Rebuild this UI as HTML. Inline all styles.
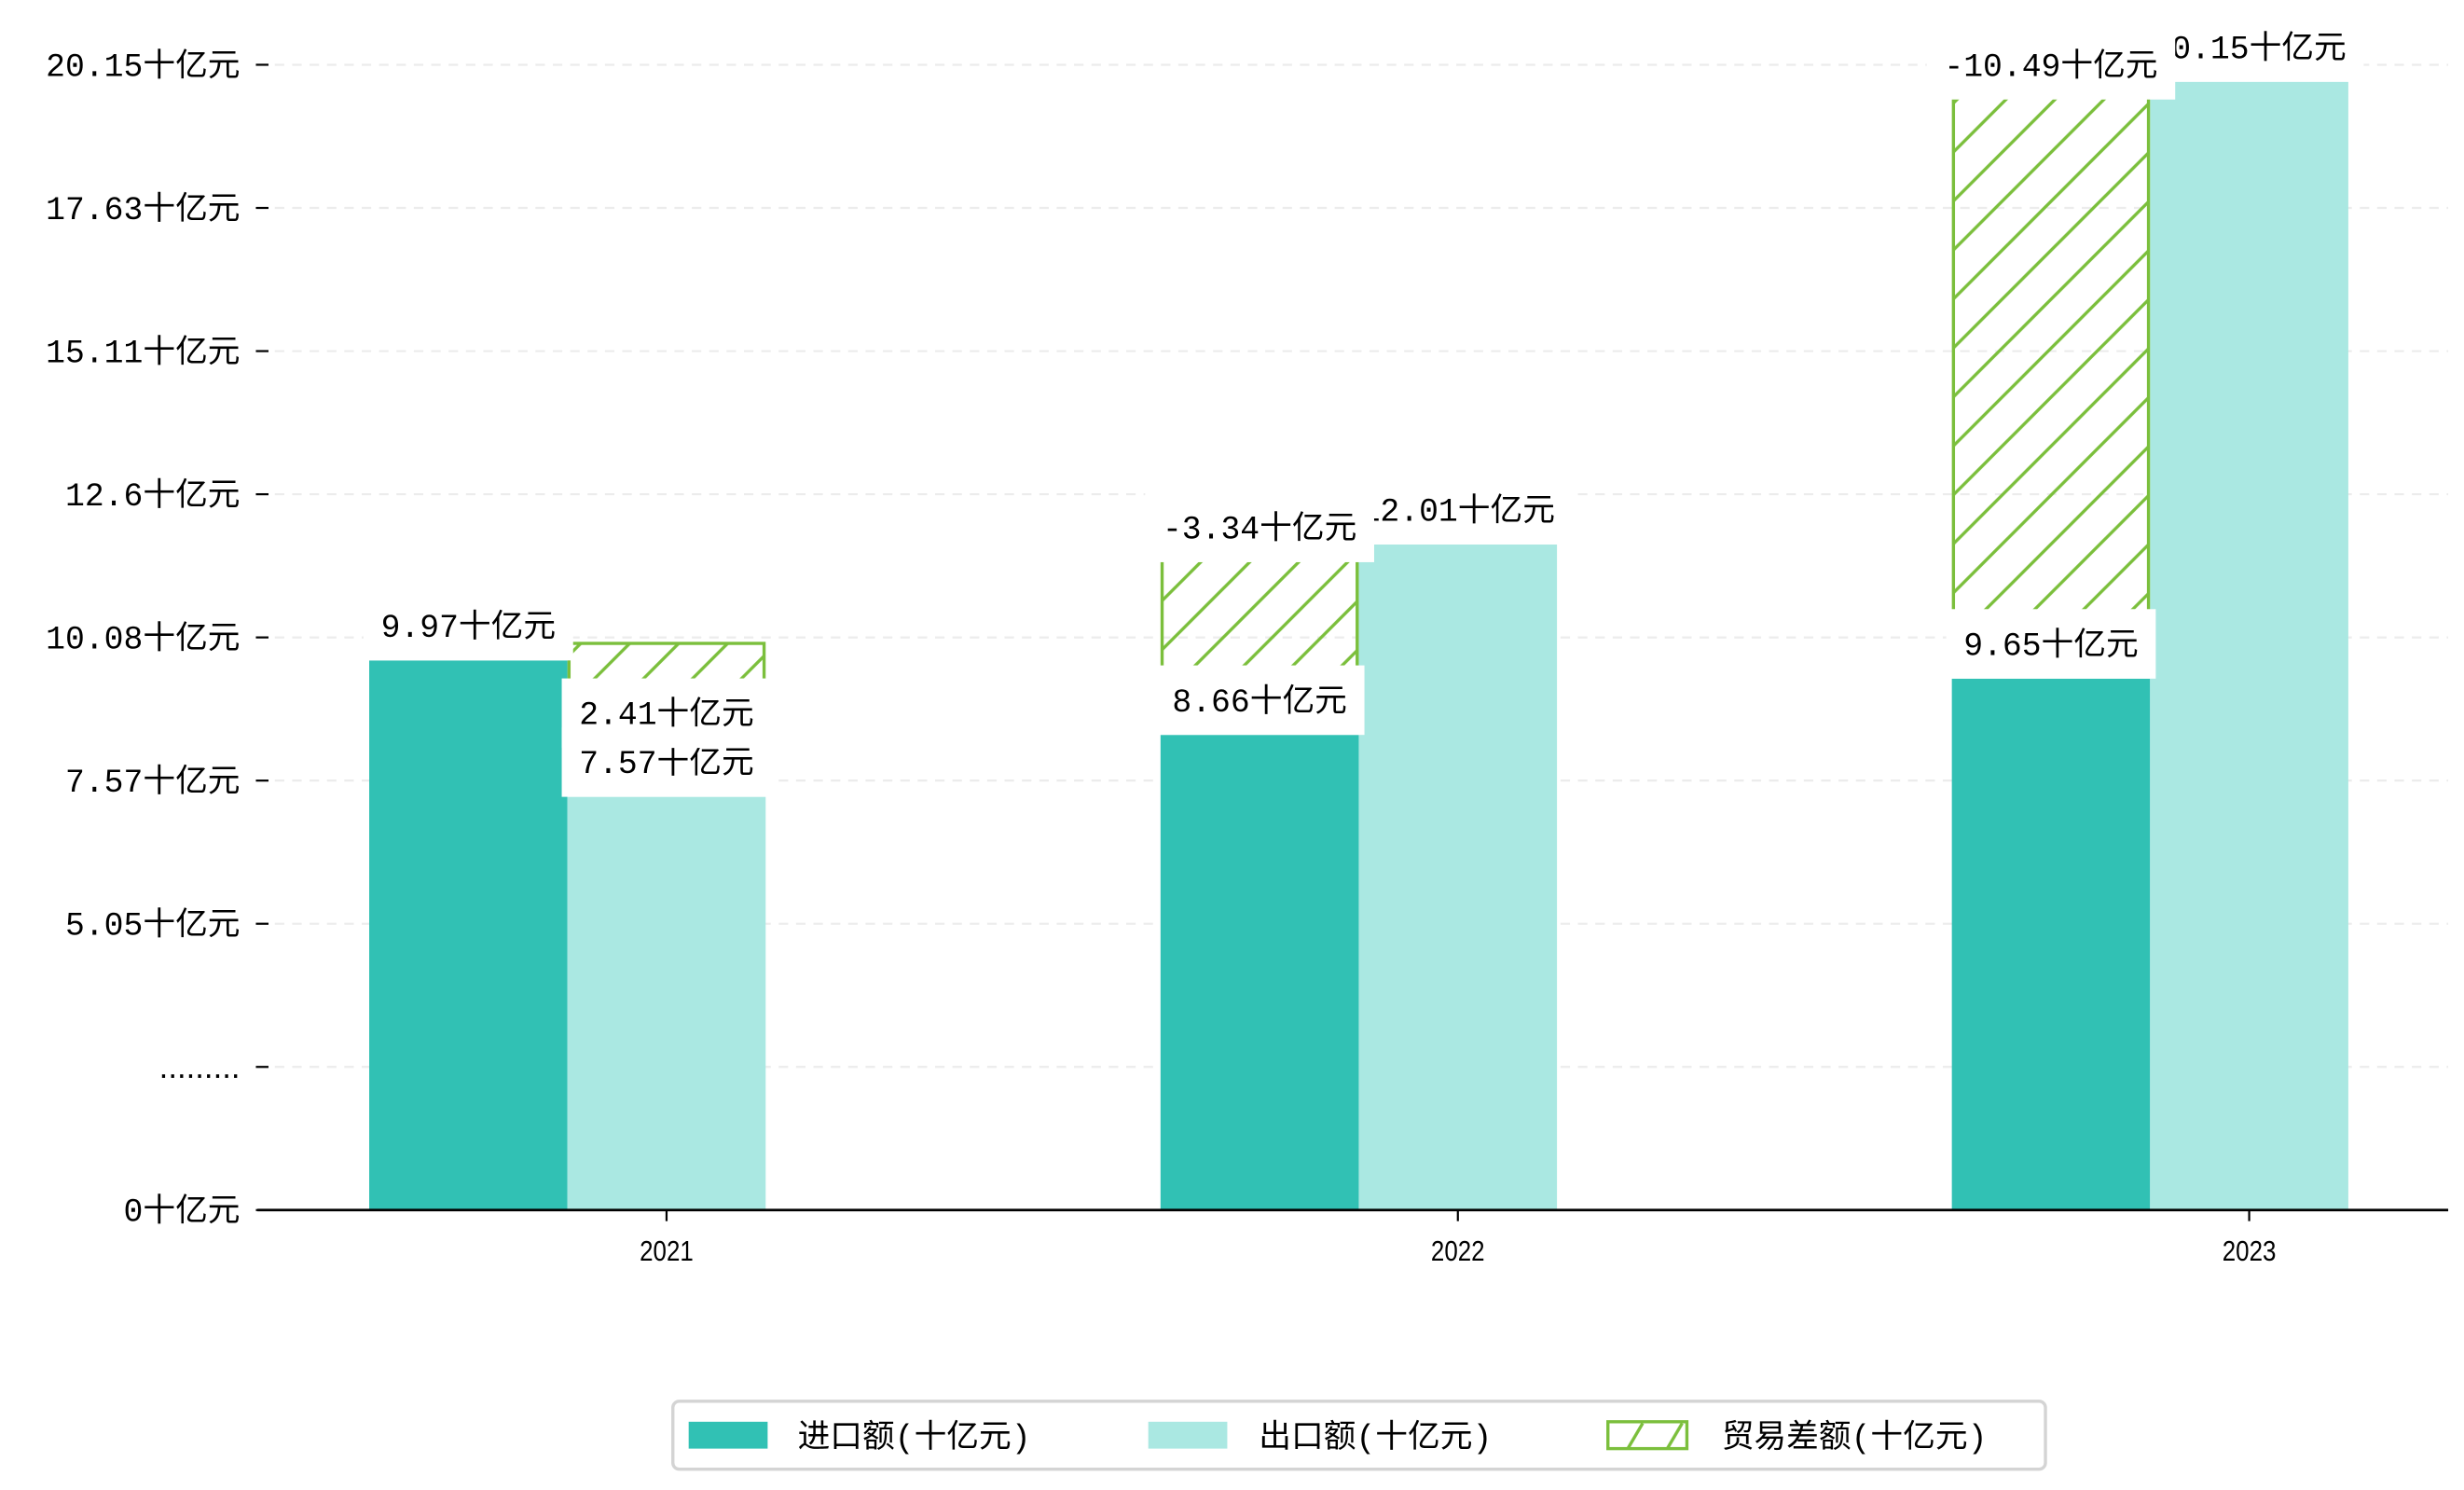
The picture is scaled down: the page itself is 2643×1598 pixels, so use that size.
<!DOCTYPE html>
<html><head><meta charset="utf-8"><style>
html,body{margin:0;padding:0;background:#fff;}
svg{display:block;}
text{font-family:"Liberation Mono","Noto Sans CJK SC",monospace;fill:#000;}
</style></head><body>
<svg id="chart" width="2643" height="1598" viewBox="0 0 1560 943.2" preserveAspectRatio="none" xmlns="http://www.w3.org/2000/svg">
<defs>
<pattern id="hatch" patternUnits="userSpaceOnUse" width="31" height="31">
<line x1="-2" y1="33" x2="33" y2="-2" stroke="#7bbf3c" stroke-width="2"/>
<line x1="-33" y1="33" x2="2" y2="-2" stroke="#7bbf3c" stroke-width="2"/>
<line x1="29" y1="33" x2="64" y2="-2" stroke="#7bbf3c" stroke-width="2"/>
</pattern>
<pattern id="hatch-legend" patternUnits="userSpaceOnUse" width="25" height="17">
<line x1="5" y1="17" x2="15" y2="0" stroke="#7bbf3c" stroke-width="2"/>
</pattern>
</defs>
<g id="grid"></g><g id="bars"></g><g id="axes"></g><g id="labels"></g><g id="legend"></g>
</svg>
<script>
const categories = ["2021", "2022", "2023"];
const importVals = [9.97, 8.66, 9.65];
const exportVals = [7.57, 12.01, 20.15];
const diffVals = [2.41, -3.34, -10.49];
const tickLabels = ["0十亿元", ".........", "5.05十亿元", "7.57十亿元", "10.08十亿元", "12.6十亿元", "15.11十亿元", "17.63十亿元", "20.15十亿元"];

const NS = "http://www.w3.org/2000/svg";
const plotL = 163, plotR = 1550, baseY = 766, topY = 41, yMax = 20.15;
const k = (baseY - topY) / yMax;
const barOffset = 0.3;
function yRaw(v){ return baseY - v * k; }
function yBar(v){ return baseY - (v - barOffset) * k; }
function yTick(i){ return baseY - i * (baseY - topY) / (tickLabels.length - 1); }
const groupW = 501, firstX = 422, barW = 125.5;
function xCenter(i){ return firstX + i * groupW; }
function mk(tag, attrs, parent){ const e = document.createElementNS(NS, tag); for (const a in attrs) e.setAttribute(a, attrs[a]); parent.appendChild(e); return e; }
const grid = document.getElementById('grid'), bars = document.getElementById('bars'), axes = document.getElementById('axes'), labels = document.getElementById('labels'), legend = document.getElementById('legend');

tickLabels.forEach((t, i) => {
  const y = yTick(i);
  if (i > 0) {
    const g = mk('line', {x1: plotL, x2: plotR, y1: y, y2: y, stroke: '#ececec', 'stroke-width': 1.3, 'stroke-dasharray': '6,5'}, grid);
    
    
  }
  const tk = mk('line', {x1: 162, x2: 170, y1: y, y2: y, stroke: '#000', 'stroke-width': 1.3}, axes);
  
  
  const attrs = {x: 152, y: y + 7, 'text-anchor': 'end', 'font-size': 20.5};
  if (t.indexOf('.....') === 0) attrs.style = 'font-family:"Liberation Sans",sans-serif';
  const tx = mk('text', attrs, axes);
  tx.textContent = t;
  
  
});

categories.forEach((c, i) => {
  const cx = xCenter(i);
  const ib = mk('rect', {x: cx - 1.5 * barW, y: yBar(importVals[i]), width: barW, height: baseY - yBar(importVals[i]), fill: '#31c1b4'}, bars);
  
  
  const eb = mk('rect', {x: cx - barW / 2, y: yBar(exportVals[i]), width: barW, height: baseY - yBar(exportVals[i]), fill: '#aae8e2'}, bars);
  
  
  const hx = diffVals[i] >= 0 ? cx - barW / 2 : cx - 1.5 * barW;
  const hi = Math.max(importVals[i], exportVals[i]), lo = Math.min(importVals[i], exportVals[i]);
  const hb = mk('rect', {x: hx + 1, y: yRaw(hi), width: barW - 2, height: yRaw(lo) - yRaw(hi), fill: 'url(#hatch)', stroke: '#7bbf3c', 'stroke-width': 2}, bars);
  
  
  const xl = mk('text', {x: cx, y: 798, 'text-anchor': 'middle', 'font-size': 18, style: 'font-family:"Liberation Sans",sans-serif', transform: 'translate(' + cx + ',0) scale(0.85,1) translate(' + (-cx) + ',0)'}, axes);
  xl.textContent = c;
  
  
  const xt = mk('line', {x1: cx, x2: cx, y1: baseY, y2: baseY + 7, stroke: '#000', 'stroke-width': 1.3}, axes);
  
  
});
const ax = mk('line', {x1: plotL, x2: plotR, y1: baseY, y2: baseY, stroke: '#000', 'stroke-width': 1.6}, axes);



function label(txt, cx, cy, name){
  const w = (txt.length - 3) * 12.3 + 3 * 20.5 + 22;
  const r = mk('rect', {x: cx - w / 2, y: cy - 22, width: w, height: 44, fill: '#fff'}, labels);
  
  
  const t = mk('text', {x: cx, y: cy + 7, 'text-anchor': 'middle', 'font-size': 20.5}, labels);
  t.textContent = txt;
  
  
}
categories.forEach((c, i) => { label(exportVals[i] + '十亿元', xCenter(i), yBar(exportVals[i]) - 22, 'export-value-label'); });
categories.forEach((c, i) => {
  const hi = Math.max(importVals[i], exportVals[i]), lo = Math.min(importVals[i], exportVals[i]);
  if (diffVals[i] >= 0) label(diffVals[i] + '十亿元', xCenter(i), (yRaw(hi) + yRaw(lo)) / 2 + 1, 'balance-value-label');
  else label(diffVals[i] + '十亿元', xCenter(i) - barW, yRaw(hi), 'balance-value-label');
});
categories.forEach((c, i) => { label(importVals[i] + '十亿元', xCenter(i) - barW, yBar(importVals[i]) - 22, 'import-value-label'); });

const lb = mk('rect', {x: 426, y: 887, width: 869, height: 43, rx: 4, fill: '#fff', stroke: '#d4d4d4', 'stroke-width': 2}, legend);


const items = [['#31c1b4', '进口额(十亿元)', 436, 505, 'legend-import'], ['#aae8e2', '出口额(十亿元)', 727, 797, 'legend-export'], ['url(#hatch-legend)', '贸易差额(十亿元)', 1018, 1090, 'legend-balance']];
items.forEach(it => {
  const attrs = {x: it[2], y: 900, width: 50, height: 17, fill: it[0]};
  if (it[0].startsWith('url')) { attrs.stroke = '#7bbf3c'; attrs['stroke-width'] = 2; }
  const s = mk('rect', attrs, legend);
  
  
  const t = mk('text', {x: it[3], y: 916, 'font-size': 20.5}, legend);
  t.textContent = it[1];
  
  
});
</script>
</body></html>
